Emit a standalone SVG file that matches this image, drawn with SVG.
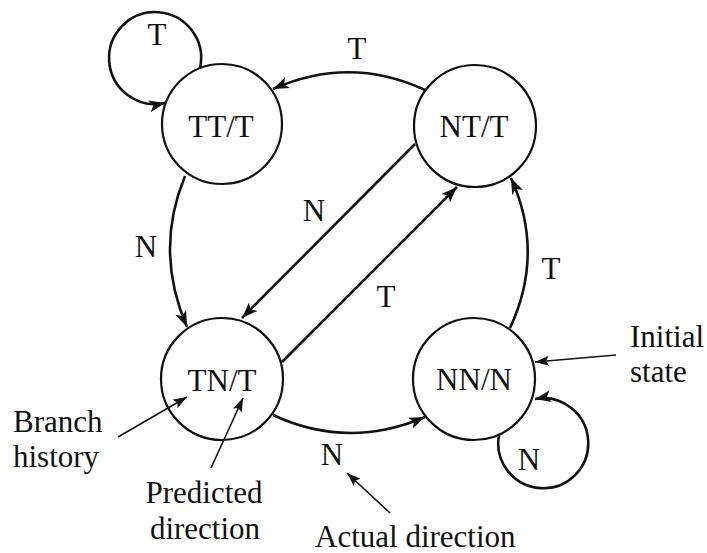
<svg xmlns="http://www.w3.org/2000/svg" width="707" height="553" viewBox="0 0 707 553">
<style>
text{font-family:"Liberation Serif","Times New Roman",serif;font-size:31px;fill:#111;}
.c{text-anchor:middle;}
.st{fill:none;stroke:#111;stroke-width:2.2;}
.e{fill:none;stroke:#111;stroke-width:2.6;marker-end:url(#ah);}
.a{fill:none;stroke:#111;stroke-width:1.6;marker-end:url(#ah2);}
</style>
<defs>
<marker id="ah" markerUnits="userSpaceOnUse" markerWidth="18" markerHeight="12" refX="16" refY="6" orient="auto">
<path d="M0,0 L16,6 L0,12 L4,6 z" fill="#111"/>
</marker>
<marker id="ah2" markerUnits="userSpaceOnUse" markerWidth="16" markerHeight="10" refX="14" refY="5" orient="auto">
<path d="M0,0 L14,5 L0,10 L3,5 z" fill="#111"/>
</marker>
</defs>
<g id="TT">
<circle class="st" cx="222" cy="124" r="60"/>
<text class="c" x="221" y="137">TT/T</text>
</g>
<g id="NT">
<circle class="st" cx="475" cy="126" r="61"/>
<text class="c" x="474" y="137">NT/T</text>
</g>
<g id="TN">
<circle class="st" cx="222" cy="379" r="61"/>
<text class="c" x="222" y="391">TN/T</text>
</g>
<g id="NN">
<circle class="st" cx="474" cy="379" r="61"/>
<text class="c" x="474" y="390">NN/N</text>
</g>
<g id="connectors">
<path class="e" d="M200,68 A46 46 0 1 0 165,103"/>
<path class="e" d="M185,176 Q154,251 187,327"/>
<path class="e" d="M415,144 L242,318"/>
<path class="e" d="M282,362 L457,187"/>
<path class="e" d="M425,90 Q350,55 273,89"/>
<path class="e" d="M510,328 Q545,253 511,178"/>
<path class="e" d="M273,415 Q348,450 425,417"/>
<path class="e" d="M499,435 A45 45 0 1 0 535,399"/>
<path class="a" d="M616,355 L535,362"/>
<path class="a" d="M118,437 L187,397"/>
<path class="a" d="M211,468 L243,398"/>
<path class="a" d="M390,513 L347,473"/>
</g>
<g id="labels">
<text class="c" x="157" y="45">T</text>
<text class="c" x="357" y="59">T</text>
<text class="c" x="146" y="257">N</text>
<text class="c" x="314" y="221">N</text>
<text class="c" x="386" y="307">T</text>
<text class="c" x="551" y="279">T</text>
<text class="c" x="332" y="465">N</text>
<text class="c" x="529" y="470">N</text>
<text x="13" y="432">Branch</text>
<text x="13" y="467">history</text>
<text class="c" x="204" y="503">Predicted</text>
<text class="c" x="205" y="539">direction</text>
<text x="315" y="547">Actual direction</text>
<text x="630" y="347">Initial</text>
<text x="630" y="382">state</text>
</g>
</svg>
